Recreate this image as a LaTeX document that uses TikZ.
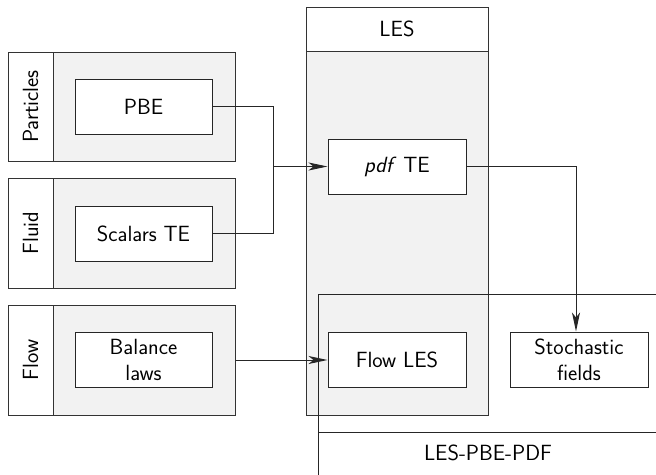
\documentclass[tikz,border=0pt]{standalone}
\usetikzlibrary{arrows.meta}
\renewcommand{\familydefault}{\sfdefault}
\begin{document}
\begin{tikzpicture}[x=1pt, y=-1pt, line width=1pt,
  font=\fontsize{22}{26}\selectfont,
  lane/.style={draw=black!80, fill=black!5, minimum width=227pt,
    minimum height=110pt, inner sep=0pt},
  lanelabel/.style={draw=black!80, fill=white, rotate=90,
    minimum width=110pt, minimum height=45pt, inner sep=0pt},
  task/.style={draw=black!85, fill=white, minimum width=137pt,
    minimum height=55pt, inner sep=0pt, align=center},
  link/.style={draw=black!85},
  flow/.style={draw=black!85, -{Stealth[length=19pt, width=8pt, inset=5pt]}}
]
\useasboundingbox (0,0) rectangle (656,474);

% input swimlanes on the left
\node[lane, minimum height=109pt] (particles) at (121.5,106.5) {};
\node[lanelabel, minimum width=109pt] (particlesLbl) at (30.5,106.5) {Particles};
\node[lane] (fluid) at (121.5,233) {};
\node[lanelabel] (fluidLbl) at (30.5,233) {Fluid};
\node[lane] (flowlane) at (121.5,360) {};
\node[lanelabel] (flowLbl) at (30.5,360) {Flow};

% LES column
\node[draw=black!80, fill=black!5, minimum width=182pt, minimum height=408pt,
  inner sep=0pt] (les) at (397,211) {};
\node[draw=black!80, fill=white, minimum width=182pt, minimum height=44pt,
  inner sep=0pt] (lesHead) at (397,29) {LES};

% coupled solver pool (open to the right and bottom)
\node[draw=black!85, minimum width=342pt, minimum height=184pt, inner sep=0pt,
  anchor=north west] (pool) at (318,294) {};
\node[draw=black!85, minimum width=342pt, minimum height=46pt, inner sep=0pt,
  anchor=north west] (poolHead) at (318,432) {};
\node (poolLbl) at (488,453) {LES-PBE-PDF};

% tasks
\node[task] (pbe) at (143.5,106.5) {PBE};
\node[task] (scalars) at (143.5,233.5) {Scalars TE};
\node[task] (balance) at (143.5,360) {Balance\\laws};
\node[task, minimum width=138pt] (pdfte) at (397,166.5) {\textit{pdf} TE};
\node[task, minimum width=138pt] (flowles) at (397,359.5) {Flow LES};
\node[task, minimum width=138pt] (stoch) at (579,359.5) {Stochastic\\fields};

% connectors
\coordinate (merge) at (273,166.5);
\draw[link] (pbe.east) -| (merge);
\draw[link] (scalars.east) -| (merge);
\draw[flow] (merge) -- (pdfte.west);
\draw[flow] (flowlane.east) -- (flowlane.east -| flowles.west);
\draw[flow] (pdfte.east) -| ([xshift=-3pt]stoch.north);
\end{tikzpicture}
\end{document}
